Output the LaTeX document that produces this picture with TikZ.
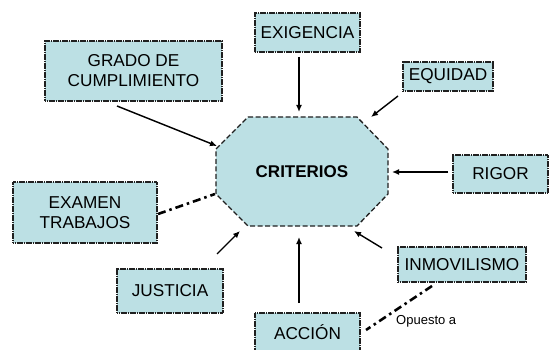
\documentclass[tikz,border=0pt]{standalone}
\usepackage{fontspec}
\setmainfont{Liberation Sans}
\usetikzlibrary{arrows.meta}
\definecolor{boxfill}{HTML}{BCE0E4}
\definecolor{boxline}{HTML}{202020}
\tikzset{
  cbox/.style={draw=boxline, fill=boxfill, line width=1.4pt, dash pattern=on 1.4pt off 0.4pt,
    inner sep=0pt, align=center, font=\fontsize{17.2}{20}\selectfont, text=black},
  conn/.style={line width=1.4pt, -{Latex[length=7pt,width=6pt]}},
  dashdot/.style={line width=2.6pt, dash pattern=on 8pt off 4pt on 2.5pt off 4pt},
}
\begin{document}
\begin{tikzpicture}[x=1pt,y=-1pt]
\useasboundingbox (0,0) rectangle (549,350);
% octagon
\filldraw[fill=boxfill, draw=boxline, line width=1.3pt, dash pattern=on 5pt off 2.5pt]
  (248,117) -- (357,117) -- (388,149) -- (388,194) -- (357,226) -- (248,226)
  -- (216,194) -- (216,149) -- cycle;
\node[font=\fontsize{17}{20}\selectfont\bfseries] (crit) at (302,172) {CRITERIOS};
% boxes
\node[cbox, minimum width=177pt, minimum height=60pt] (grado) at (133.5,71) {GRADO DE\\CUMPLIMIENTO};
\node[cbox, minimum width=105pt, minimum height=39pt] (exig) at (307.5,32.5) {EXIGENCIA};
\node[cbox, minimum width=90pt, minimum height=29pt] (equi) at (448,76.5) {EQUIDAD};
\node[cbox, minimum width=95pt, minimum height=38pt] (rigor) at (500.5,174) {RIGOR};
\node[cbox, minimum width=144pt, minimum height=61pt] (exam) at (85,212.5) {EXAMEN\\TRABAJOS};
\node[cbox, minimum width=106pt, minimum height=44pt] (just) at (170,291) {JUSTICIA};
\node[cbox, minimum width=105pt, minimum height=38pt] (acc) at (307.5,332) {ACCIÓN};
\node[cbox, minimum width=128pt, minimum height=35pt] (inmo) at (462,264.5) {INMOVILISMO};
% connector end points
\coordinate (g1) at (117,106); \coordinate (g2) at (217,146);
\coordinate (x1) at (299,57);  \coordinate (x2) at (299,112);
\coordinate (e1) at (398,96);  \coordinate (e2) at (371,117);
\coordinate (r1) at (448,172); \coordinate (r2) at (392,172);
\coordinate (m1) at (158,214); \coordinate (m2) at (215,194);
\coordinate (j1) at (217,254); \coordinate (j2) at (240,231);
\coordinate (a1) at (299,303); \coordinate (a2) at (299,237);
\coordinate (i1) at (382,248); \coordinate (i2) at (354,231);
\coordinate (o1) at (432,286); \coordinate (o2) at (366,330);
% connectors
\draw[conn] (g1) -- (g2);
\draw[conn] (x1) -- (x2);
\draw[conn] (e1) -- (e2);
\draw[conn] (r1) -- (r2);
\draw[dashdot] (m1) -- (m2);
\draw[conn] (j1) -- (j2);
\draw[conn] (a1) -- (a2);
\draw[conn] (i1) -- (i2);
\draw[dashdot] (o1) -- (o2);
\node[anchor=west, inner sep=0pt, font=\fontsize{13}{15}\selectfont] (op) at (396,321) {Opuesto a};
\end{tikzpicture}
\end{document}
